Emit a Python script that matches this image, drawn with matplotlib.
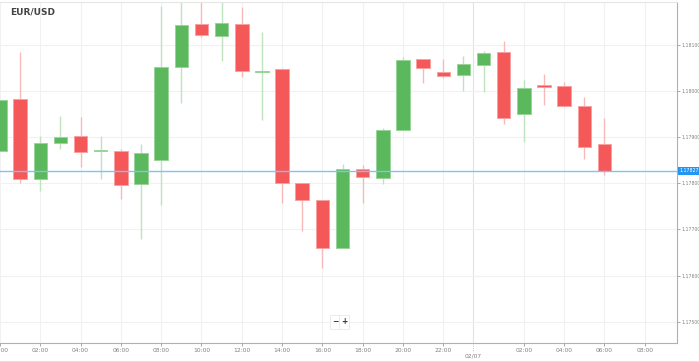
import matplotlib
matplotlib.use("Agg")
import matplotlib.pyplot as plt
import matplotlib.transforms as mtransforms
from matplotlib.lines import Line2D
import numpy as np

# hourly candles, index 0 = 00:00 on 02/06
hours = np.arange(31)
opens = [1.17870, 1.17982, 1.17809, 1.17887, 1.17903, 1.17869, 1.17869, 1.17798,
         1.17850, 1.18051, 1.18145, 1.18119, 1.18145, 1.18041, 1.18048, 1.17801,
         1.17763, 1.17661, 1.17831, 1.17812, 1.17915, 1.18070, 1.18041, 1.18034,
         1.18056, 1.18084, 1.17950, 1.18012, 1.18010, 1.17968, 1.17884]
highs = [1.17980, 1.18084, 1.17902, 1.17946, 1.17944, 1.17902, 1.17874, 1.17885,
         1.18184, 1.18197, 1.18193, 1.18193, 1.18181, 1.18127, 1.18050, 1.17801,
         1.17763, 1.17842, 1.17840, 1.17919, 1.18073, 1.18070, 1.18070, 1.18076,
         1.18086, 1.18107, 1.18024, 1.18036, 1.18019, 1.17987, 1.17941]
lows = [1.17870, 1.17801, 1.17784, 1.17874, 1.17835, 1.17809, 1.17765, 1.17679,
        1.17752, 1.17974, 1.18116, 1.18065, 1.18029, 1.17937, 1.17758, 1.17697,
        1.17617, 1.17661, 1.17758, 1.17798, 1.17915, 1.18018, 1.18027, 1.18000,
        1.17998, 1.17928, 1.17890, 1.17969, 1.17965, 1.17853, 1.17819]
closes = [1.17980, 1.17809, 1.17888, 1.17900, 1.17868, 1.17871, 1.17796, 1.17866,
          1.18052, 1.18143, 1.18122, 1.18146, 1.18043, 1.18044, 1.17801, 1.17763,
          1.17661, 1.17832, 1.17814, 1.17915, 1.18067, 1.18049, 1.18032, 1.18059,
          1.18083, 1.17941, 1.18007, 1.18008, 1.17968, 1.17879, 1.17827]

xtick_pos = [0, 2, 4, 6, 8, 10, 12, 14, 16, 18, 20, 22, 26, 28, 30, 32]
xtick_lab = ["00:00", "02:00", "04:00", "06:00", "08:00", "10:00", "12:00", "14:00",
             "16:00", "18:00", "20:00", "22:00", "02:00", "04:00", "06:00", "08:00"]
day_pos = 23.5
day_lab = "02/07"
yticks = [1.175, 1.176, 1.177, 1.178, 1.179, 1.180, 1.181]

up_col, up_edge, up_wick = "#5cb85c", "#9bd49b", "#bfe3bf"
dn_col, dn_edge, dn_wick = "#f55858", "#f9a0a0", "#f8b9b9"

fig = plt.figure(figsize=(6.99, 3.62), dpi=100)
ax = fig.add_axes([0, 19/362, 677/699, 341/362])

o = np.array(opens); c = np.array(closes)
up = c >= o
ax.vlines(hours[up], np.array(lows)[up], np.array(highs)[up], color=up_wick, lw=1, zorder=2)
ax.vlines(hours[~up], np.array(lows)[~up], np.array(highs)[~up], color=dn_wick, lw=1, zorder=2)
bot = np.minimum(o, c)
hgt = np.maximum(np.abs(c - o), 0.00003)
ax.bar(hours[up], hgt[up], bottom=bot[up], width=0.67, color=up_col,
       edgecolor=up_edge, linewidth=0.7, zorder=3)
ax.bar(hours[~up], hgt[~up], bottom=bot[~up], width=0.67, color=dn_col,
       edgecolor=dn_edge, linewidth=0.7, zorder=3)

# current price line + label
last = closes[-1]
ax.axhline(last, color="#7cc4f4", lw=1, zorder=4)
trans = mtransforms.blended_transform_factory(ax.transAxes, ax.transData)
ax.text(1.004, last, "%.5f" % last, transform=trans, fontsize=3.3, color="white",
        va="center", ha="left", zorder=6, clip_on=False,
        bbox=dict(boxstyle="square,pad=0.3", fc="#2196f3", ec="none"))

ax.set_xlim(0, 33.6)
ax.set_ylim(1.174543, 1.181924)
ax.set_xticks(xtick_pos)
ax.set_xticklabels(xtick_lab)
ax.set_yticks(yticks)
ax.set_yticklabels(["%.5f" % v for v in yticks])
ax.yaxis.tick_right()
ax.tick_params(axis="both", colors="#999999", length=2, width=0.6, pad=1.5)
ax.tick_params(axis="x", labelsize=4.3, labelcolor="#808080")
ax.tick_params(axis="y", labelsize=3.3, labelcolor="#808080", pad=1)
ax.grid(True, color="#f1f1f1", lw=0.8, zorder=0)
ax.axvline(day_pos, color="#e2e2e2", lw=0.8, zorder=1)
ax.spines["left"].set_visible(False)
ax.spines["top"].set_color("#e6e6e6")
ax.spines["bottom"].set_color("#b0b0b0")
ax.spines["right"].set_color("#b0b0b0")
ax.spines["bottom"].set_linewidth(0.8)
ax.spines["right"].set_linewidth(0.8)

# date label under the axis
tx = mtransforms.blended_transform_factory(ax.transData, ax.transAxes)
ax.plot([day_pos, day_pos], [0, -0.025], transform=tx, color="#aaaaaa", lw=0.6,
        ls=":", clip_on=False)
ax.text(day_pos, -0.032, day_lab, transform=tx, fontsize=4.3, color="#808080",
        ha="center", va="top", clip_on=False)

fig.text(10/699, 1 - 12/362, "EUR/USD", fontsize=6.5, fontweight="bold",
         color="#444444", va="center", ha="left")

# zoom buttons
fig.text(335/699, 1 - 322/362, "\u2212", fontsize=5.5, fontweight="bold", color="#333333",
         ha="center", va="center",
         bbox=dict(boxstyle="square,pad=0.3", fc="white", ec="#e4e4e4", lw=0.5))
fig.text(344/699, 1 - 322/362, "+", fontsize=5.5, fontweight="bold", color="#333333",
         ha="center", va="center",
         bbox=dict(boxstyle="square,pad=0.3", fc="white", ec="#e4e4e4", lw=0.5))

fig.add_artist(Line2D([0, 1], [0.003, 0.003], color="#e2e2e2", lw=0.8))

fig.savefig("out.png", dpi=100)
